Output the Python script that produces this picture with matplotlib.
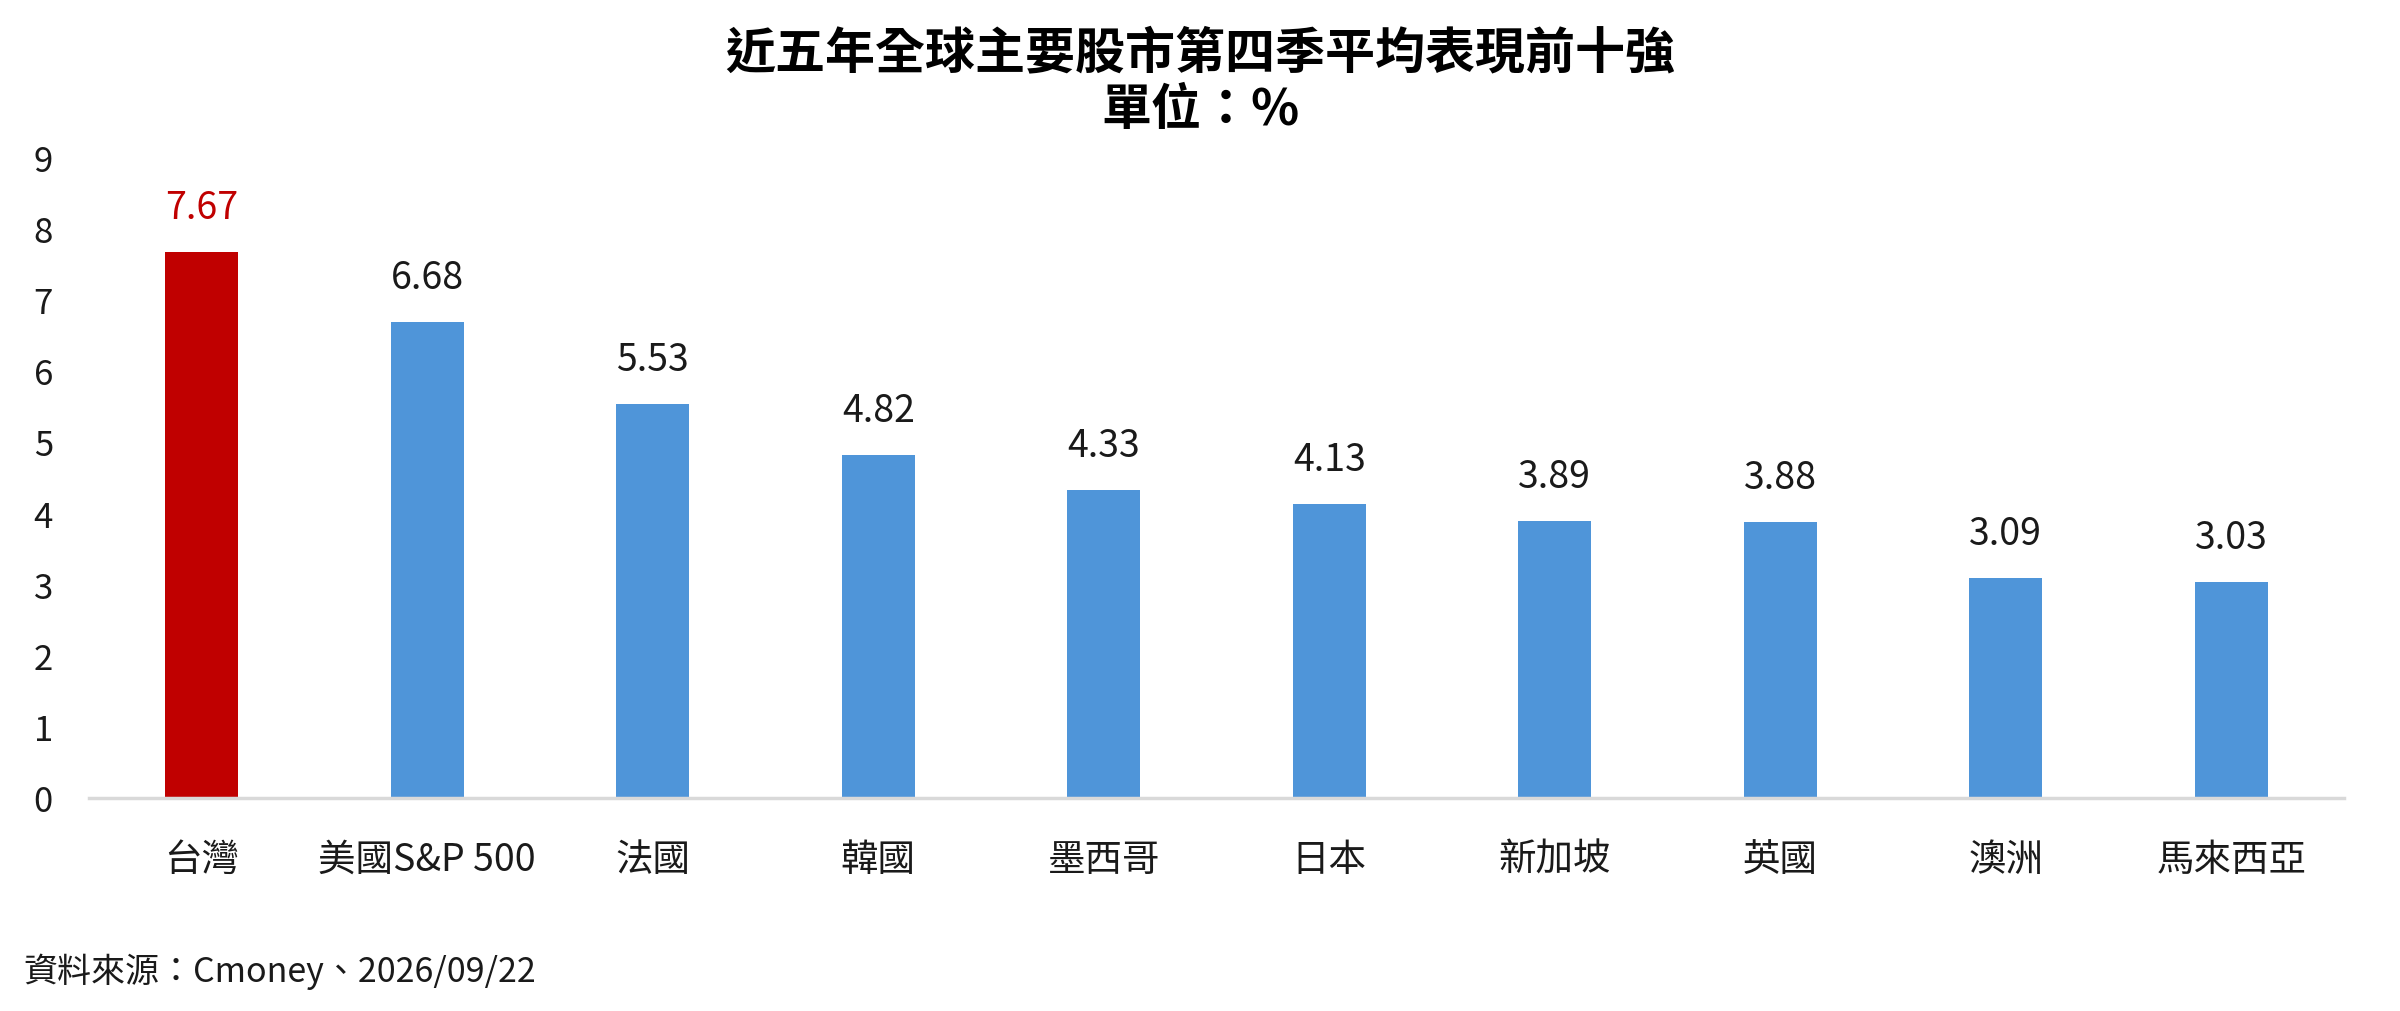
import matplotlib
matplotlib.use("Agg")
import matplotlib.pyplot as plt

plt.rcParams['font.family'] = ['Noto Sans CJK TC', 'DejaVu Sans']

categories = ['台灣', '美國S&P 500', '法國', '韓國', '墨西哥', '日本', '新加坡', '英國', '澳洲', '馬來西亞']
values = [7.67, 6.68, 5.53, 4.82, 4.33, 4.13, 3.89, 3.88, 3.09, 3.03]
bar_colors = ['#C00000'] + ['#4F95D9'] * 9
label_colors = ['#C00000'] + ['#1a1a1a'] * 9
yticks = list(range(0, 10))
title = '近五年全球主要股市第四季平均表現前十強\n單位：%'
source = '資料來源：Cmoney、2026/09/22'

W, H = 2400, 1012
fig = plt.figure(figsize=(W / 100, H / 100), dpi=100)
ax = fig.add_axes([89 / W, 1 - 799 / H, (2344 - 89) / W, (799 - 158) / H])

x = list(range(len(categories)))
ax.bar(x, values, width=0.324, color=bar_colors, zorder=2)
ax.set_xlim(-0.5, len(categories) - 0.5)
ax.set_ylim(0, 9)
ax.set_yticks(yticks)
ax.set_yticklabels([str(t) for t in yticks])
ax.set_xticks(x)
ax.set_xticklabels(categories)

for s in ['top', 'right', 'left']:
    ax.spines[s].set_visible(False)
ax.spines['bottom'].set_color('#D9D9D9')
ax.spines['bottom'].set_linewidth(2.5)
ax.tick_params(axis='y', length=0, pad=26, labelsize=25, labelcolor='#1a1a1a')
ax.tick_params(axis='x', length=0, pad=30, labelsize=27, labelcolor='#1a1a1a')

for xi, v, c in zip(x, values, label_colors):
    ax.annotate(f'{v:.2f}', (xi, v), xytext=(0, 32), textcoords='offset points',
                ha='center', va='center', fontsize=27, color=c)

fig.text(0.5, 1 - 82 / H, title, ha='center', va='center', fontsize=36,
         fontweight='bold', linespacing=1.15, color='black')
fig.text(23 / W, 1 - 972 / H, source, ha='left', va='center', fontsize=24.5, color='#1a1a1a')

fig.savefig('out.png', dpi=100, facecolor='white')
